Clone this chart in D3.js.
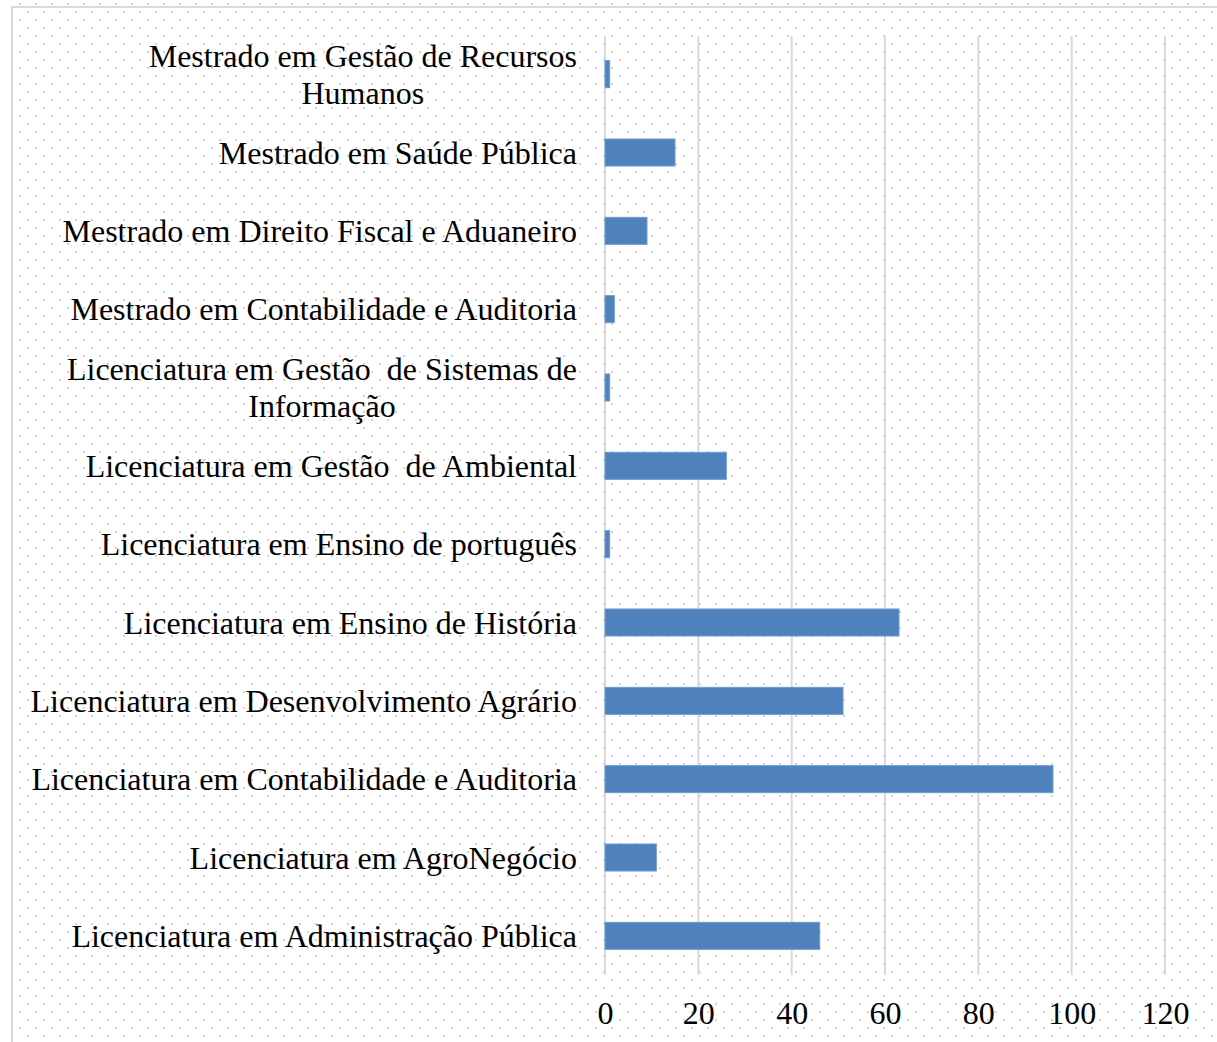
<!DOCTYPE html>
<html>
<head>
<meta charset="utf-8">
<script src="https://cdn.jsdelivr.net/npm/d3@7"></script>
<style>
  html, body { margin: 0; padding: 0; background: #fff; }
  svg { display: block; }
  text { font-family: "Liberation Serif", "Times New Roman", serif; fill: #000; }
</style>
</head>
<body>
<svg id="chart" width="1217" height="1042"></svg>
<script>
// Categories, top to bottom (each entry is a list of label lines)
const categories = [
  ["Mestrado em Gestão de Recursos", "Humanos"],
  ["Mestrado em Saúde Pública"],
  ["Mestrado em Direito Fiscal e Aduaneiro"],
  ["Mestrado em Contabilidade e Auditoria"],
  ["Licenciatura em Gestão  de Sistemas de", "Informação"],
  ["Licenciatura em Gestão  de Ambiental"],
  ["Licenciatura em Ensino de português"],
  ["Licenciatura em Ensino de História"],
  ["Licenciatura em Desenvolvimento Agrário"],
  ["Licenciatura em Contabilidade e Auditoria"],
  ["Licenciatura em AgroNegócio"],
  ["Licenciatura em Administração Pública"]
];
const values = [1, 15, 9, 2, 1, 26, 1, 63, 51, 96, 11, 46];
const xTicks = [0, 20, 40, 60, 80, 100, 120];

const svg = d3.select("#chart");
const W = 1217, H = 1042;
const FONT = "Liberation Serif, Times New Roman, serif";
const FS = 32;

// dotted background pattern
const defs = svg.append("defs");
const pat = defs.append("pattern")
  .attr("id", "dots").attr("patternUnits", "userSpaceOnUse")
  .attr("width", 16).attr("height", 16);
pat.append("rect").attr("x", 3).attr("y", 3).attr("width", 2).attr("height", 2).attr("fill", "#d2d2d2");
pat.append("rect").attr("x", 11).attr("y", 11).attr("width", 2).attr("height", 2).attr("fill", "#d2d2d2");

svg.append("rect").attr("width", W).attr("height", H).attr("fill", "url(#dots)");
svg.append("rect").attr("x", 0).attr("y", 0).attr("width", 11).attr("height", H).attr("fill", "#fff");
// chart frame
svg.append("rect").attr("x", 12).attr("y", 7).attr("width", W + 20).attr("height", H + 20)
  .attr("fill", "none").attr("stroke", "#d9d9d9").attr("stroke-width", 2);

const x = d3.scaleLinear().domain([0, 120]).range([605, 1165]);
const ids = categories.map((c, i) => i);
const y = d3.scaleBand().domain(ids).range([35, 975]).paddingInner(0.655).paddingOuter(0.3275);

// gridlines
svg.append("g").selectAll("line").data(xTicks).join("line")
  .attr("x1", d => x(d)).attr("x2", d => x(d))
  .attr("y1", 36).attr("y2", 975)
  .attr("stroke", "#d9d9d9").attr("stroke-width", 2);

// x axis tick labels
const xAxis = d3.axisBottom(x).tickValues(xTicks).tickSize(0).tickPadding(0);
const gx = svg.append("g").attr("transform", "translate(0,1024)").call(xAxis);
gx.select(".domain").remove();
gx.attr("font-family", FONT).attr("font-size", FS);
gx.selectAll("text")
  .attr("font-family", FONT)
  .attr("font-size", FS).attr("fill", "#000").attr("y", 0).attr("dy", "0");

// bars
svg.append("g").selectAll("rect").data(values).join("rect")
  .attr("x", x(0))
  .attr("y", (d, i) => y(i))
  .attr("width", d => x(d) - x(0))
  .attr("height", y.bandwidth())
  .attr("fill", "#4f81bd")
  .attr("stroke", "#6f9bd1").attr("stroke-width", 1);

// category labels
const labelRight = 577;
const lineH = 37;
const lg = svg.append("g");
categories.forEach((lines, i) => {
  const cy = y(i) + y.bandwidth() / 2;
  const t = lg.append("text")
    .attr("font-family", FONT)
    .attr("font-size", FS)
    .style("white-space", "pre")
    .attr("text-anchor", "middle");
  const n = lines.length;
  const spans = lines.map((ln, k) =>
    t.append("tspan").attr("y", cy + (k - (n - 1) / 2) * lineH).attr("dy", "0.35em").text(ln));
  let maxW = 0;
  spans.forEach(s => { maxW = Math.max(maxW, s.node().getComputedTextLength()); });
  spans.forEach(s => s.attr("x", labelRight - maxW / 2));
});
</script>
</body>
</html>
